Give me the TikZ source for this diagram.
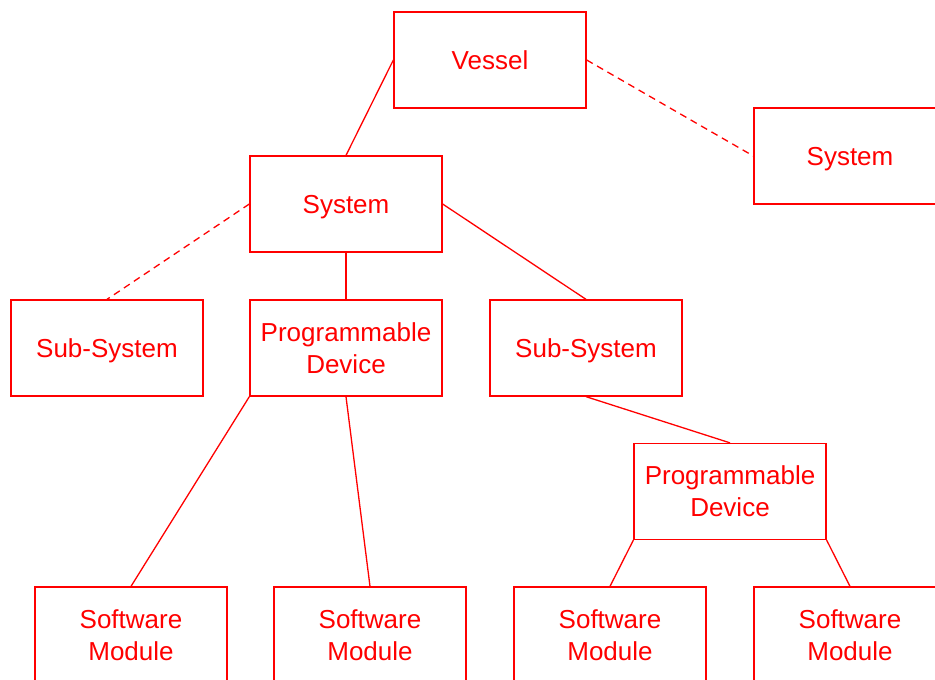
\documentclass[tikz,border=0pt]{standalone}
\usepackage{fontspec}
\setmainfont{Liberation Sans}
\begin{document}
\begin{tikzpicture}[x=1pt,y=-1pt,
  box/.style={draw=red, line width=1.3pt, rectangle, minimum width=192pt, minimum height=96pt, inner sep=0pt,
    text=red, align=center, text depth=0pt, font=\fontsize{26}{32}\selectfont},
  conn/.style={draw=red, line width=1.3pt},
  dconn/.style={draw=red, line width=1.3pt, dash pattern=on 7pt off 5pt}]
\useasboundingbox (0,0) rectangle (935,680);
\clip (0,0) rectangle (935,680);
\node[box] (vessel) at (490,60) {Vessel};
\node[box] (sysR) at (850,156) {System};
\node[box] (sys) at (346,204) {System};
\node[box] (subL) at (107,348) {Sub-System};
\node[box] (pd) at (346,348) {Programmable\\Device};
\node[box] (subR) at (586,348) {Sub-System};
\node[box] (pd2) at (730,491.5) {Programmable\\Device};
\node[box] (sm1) at (131,635) {Software\\Module};
\node[box] (sm2) at (370,635) {Software\\Module};
\node[box] (sm3) at (610,635) {Software\\Module};
\node[box] (sm4) at (850,635) {Software\\Module};
\draw[conn] (vessel.west) -- (sys.north);
\draw[dconn] (vessel.east) -- (sysR.west);
\draw[dconn] (sys.west) -- (subL.north);
\draw[conn] (sys.south) -- (pd.north);
\draw[conn] (sys.east) -- (subR.north);
\draw[conn] (pd.south west) -- (sm1.north);
\draw[conn] (pd.south) -- (sm2.north);
\draw[conn] (subR.south) -- (pd2.north);
\draw[conn] (pd2.south west) -- (sm3.north);
\draw[conn] (pd2.south east) -- (sm4.north);
\end{tikzpicture}
\end{document}
